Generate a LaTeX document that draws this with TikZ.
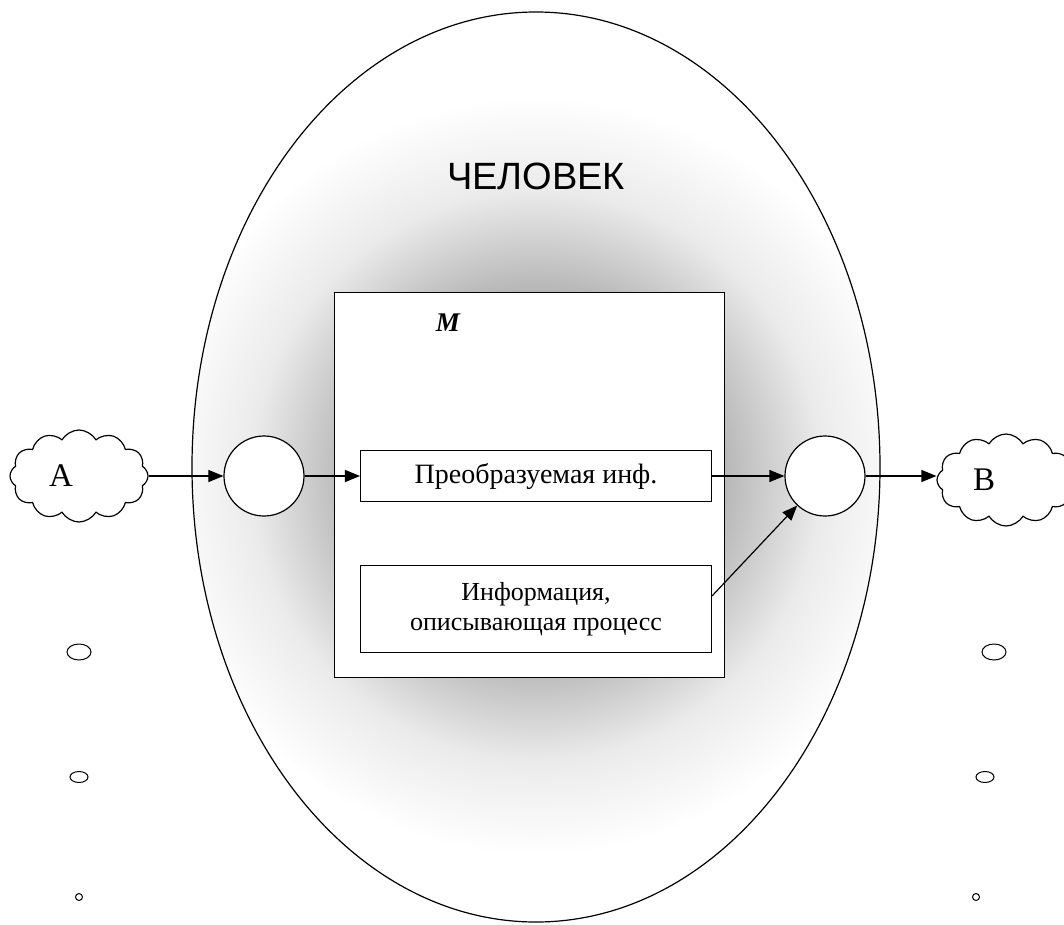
\documentclass[tikz,border=0pt]{standalone}
\usepackage{fontspec}
\setmainfont{Liberation Serif}
\setsansfont{Liberation Sans}
\usetikzlibrary{positioning,shapes.geometric,shapes.symbols,arrows.meta}
\pgfdeclareradialshading{halo}{\pgfpointorigin}{color(0bp)=(black!50); color(11.75bp)=(black!30); color(18.75bp)=(black!8); color(25bp)=(white)}

\begin{document}
\begin{tikzpicture}[node distance=272pt]
% Define styles
\tikzstyle{block} = [rectangle, draw=black, fill=white, line width=1pt, text centered, inner sep=0pt, minimum width=351pt, font=\fontsize{26}{30}\selectfont]
\tikzstyle{junction} = [circle, draw=black, fill=white, line width=1.2pt, minimum size=80pt]
\tikzstyle{puff} = [cloud, cloud puffs=12, cloud puff arc=120, aspect=1.5, draw=black, fill=white, line width=1.2pt, minimum width=138pt, minimum height=92pt, inner sep=0pt, font=\fontsize{33}{36}\selectfont]
\tikzstyle{dot} = [ellipse, draw=black, line width=1pt, inner sep=0pt]
\tikzstyle{arrow} = [line width=1.2pt, -{Triangle[length=15pt, width=12pt]}]

\useasboundingbox (-536pt,476pt) rectangle (528pt,-448pt);

% Draw nodes
\node (person) [ellipse, draw=black, line width=1.2pt, fill=white, minimum width=688pt, minimum height=910pt,
  path picture={\node (glow) [circle, minimum size=760pt, shade, shading=halo] at ([yshift=-9pt]path picture bounding box.center) {};}] at (0pt,9pt) {};
\node (inf0) at (0pt,0pt) {};
\node (title) [above of=inf0, node distance=300pt, font=\sffamily\fontsize{38}{40}\selectfont] {ЧЕЛОВЕК};
\node (model) [rectangle, draw=black, fill=white, line width=1pt, minimum width=389pt, minimum height=385pt] at (-6.5pt,-8.5pt) {};
\node (mlabel) at (-88pt,153pt) {\fontsize{27}{30}\selectfont\bfseries\itshape M};
\node (inf) [block, minimum height=51pt, font=\fontsize{28}{30}\selectfont] at (0pt,0pt) {Преобразуемая инф.};
\node (proc) [block, below of=inf, node distance=133pt, minimum height=87pt, align=center] {Информация,\\описывающая процесс};
\node (in) [junction, left of=inf] {};
\node (out) [junction, right of=inf, node distance=289pt] {};
\node (a) [puff, left of=in, node distance=185pt] {A\hspace*{36pt}};
\node (b) [puff, right of=out, node distance=181pt, yshift=-4pt] {B\hspace*{44pt}};

% Small circles
\node (d1) [dot, minimum width=24pt, minimum height=16pt, below of=a, node distance=176pt] {};
\node (d2) [dot, minimum width=18pt, minimum height=11pt, below of=d1, node distance=125pt] {};
\node (d3) [dot, minimum size=7pt, below of=d2, node distance=120pt] {};
\node (e1) [dot, minimum width=24pt, minimum height=16pt, below of=b, node distance=172pt, xshift=-12pt] {};
\node (e2) [dot, minimum width=18pt, minimum height=11pt, below of=e1, node distance=125pt, xshift=-9pt] {};
\node (e3) [dot, minimum size=7pt, below of=e2, node distance=120pt, xshift=-9pt] {};

% Draw arrows
\draw [arrow] (a) -- (in);
\draw [arrow] (in) -- (inf);
\draw [arrow] (inf) -- (out);
\draw [arrow] ([yshift=13pt]proc.east) -- (out);
\draw [arrow] (out) -- (b.west |- out.east);

\end{tikzpicture}
\end{document}
